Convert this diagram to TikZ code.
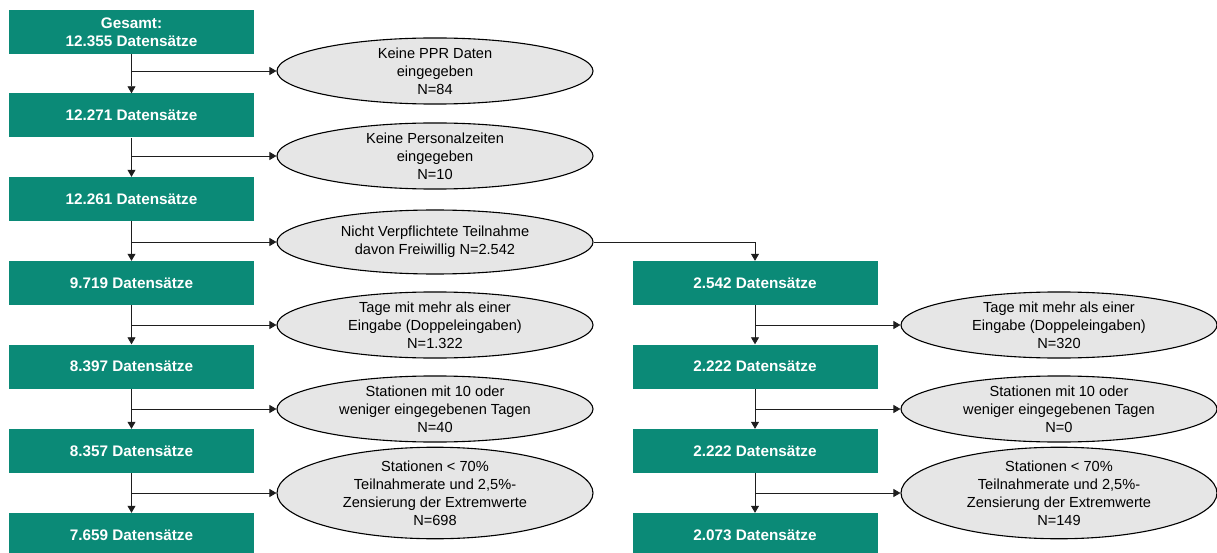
\documentclass[tikz,border=0pt]{standalone}
\usepackage{fontspec}
\setmainfont{Liberation Sans}
\usetikzlibrary{shapes.geometric,arrows.meta}
\definecolor{teal1}{RGB}{11,138,119}
\definecolor{ellfill}{RGB}{230,230,230}
\definecolor{linec}{RGB}{30,30,30}
\begin{document}
\begin{tikzpicture}[x=1pt,y=-1pt,
  databox/.style={rectangle,fill=teal1,text=white,minimum width=245pt,minimum height=44pt,inner sep=0pt,align=center,font=\fontsize{15.3}{18}\selectfont\bfseries},
  excl/.style={ellipse,draw=black,line width=1.1pt,fill=ellfill,minimum width=316pt,minimum height=61pt,inner sep=0pt,align=center,font=\fontsize{14.6}{18}\selectfont},
  arr/.style={draw=linec,line width=0.8pt,-{Triangle[length=7pt,width=8pt]}},
  ln/.style={draw=linec,line width=0.8pt}]
\useasboundingbox (0,0) rectangle (1217,553);
% left column
\node[databox] (B1) at (131.5,32) {Gesamt:\\12.355 Datensätze};
\node[databox] (B2) at (131.5,115.5) {12.271 Datensätze};
\node[databox] (B3) at (131.5,199) {12.261 Datensätze};
\node[databox] (B4) at (131.5,283) {9.719 Datensätze};
\node[databox] (B5) at (131.5,366.5) {8.397 Datensätze};
\node[databox] (B6) at (131.5,451) {8.357 Datensätze};
\node[databox] (B7) at (131.5,535) {7.659 Datensätze};
% left ellipses
\node[excl] (E1) at (435,71) {Keine PPR Daten\\eingegeben\\N=84};
\node[excl] (E2) at (435,156) {Keine Personalzeiten\\eingegeben\\N=10};
\node[excl,minimum height=64pt] (E3) at (435,242) {Nicht Verpflichtete Teilnahme\\davon Freiwillig N=2.542};
\node[excl] (E4) at (435,325) {Tage mit mehr als einer\\Eingabe (Doppeleingaben)\\N=1.322};
\node[excl] (E5) at (435,409) {Stationen mit 10 oder\\weniger eingegebenen Tagen\\N=40};
\node[excl,minimum height=78pt] (E6) at (435,493) {Stationen < 70\%\\Teilnahmerate und 2,5\%-\\Zensierung der Extremwerte\\N=698};
% right column
\node[databox] (R1) at (755,283) {2.542 Datensätze};
\node[databox] (R2) at (755,366.5) {2.222 Datensätze};
\node[databox] (R3) at (755,451) {2.222 Datensätze};
\node[databox] (R4) at (755,535) {2.073 Datensätze};
\node[excl] (F1) at (1059,325) {Tage mit mehr als einer\\Eingabe (Doppeleingaben)\\N=320};
\node[excl] (F2) at (1059,409) {Stationen mit 10 oder\\weniger eingegebenen Tagen\\N=0};
\node[excl,minimum height=78pt] (F3) at (1059,493) {Stationen < 70\%\\Teilnahmerate und 2,5\%-\\Zensierung der Extremwerte\\N=149};
% connectors left
\draw[arr] (B1.south) -- (B2.north);
\draw[arr] (B2.south) -- (B3.north);
\draw[arr] (B3.south) -- (B4.north);
\draw[arr] (B4.south) -- (B5.north);
\draw[arr] (B5.south) -- (B6.north);
\draw[arr] (B6.south) -- (B7.north);
\draw[arr] (B1.south |- E1.west) -- (E1.west);
\draw[arr] (B2.south |- E2.west) -- (E2.west);
\draw[arr] (B3.south |- E3.west) -- (E3.west);
\draw[arr] (B4.south |- E4.west) -- (E4.west);
\draw[arr] (B5.south |- E5.west) -- (E5.west);
\draw[arr] (B6.south |- E6.west) -- (E6.west);
% branch to right
\draw[arr] (E3.east) -| (R1.north);
% connectors right
\draw[arr] (R1.south) -- (R2.north);
\draw[arr] (R2.south) -- (R3.north);
\draw[arr] (R3.south) -- (R4.north);
\draw[arr] (R1.south |- F1.west) -- (F1.west);
\draw[arr] (R2.south |- F2.west) -- (F2.west);
\draw[arr] (R3.south |- F3.west) -- (F3.west);
\end{tikzpicture}
\end{document}
